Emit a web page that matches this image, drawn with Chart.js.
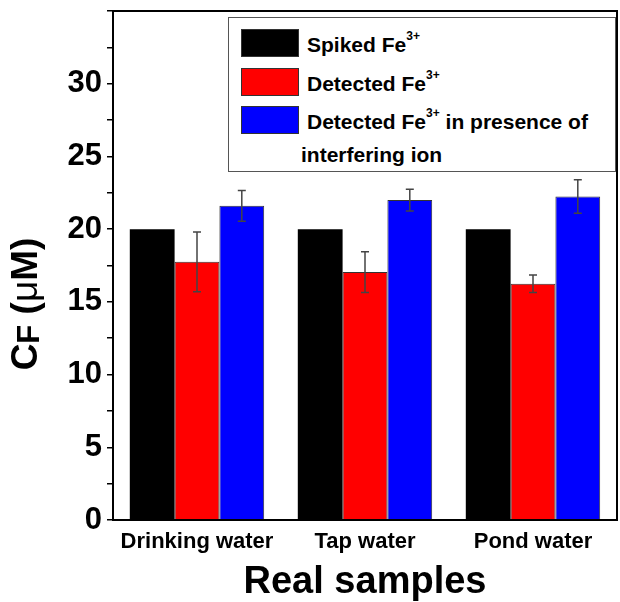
<!DOCTYPE html>
<html>
<head>
<meta charset="utf-8">
<script src="https://cdn.jsdelivr.net/npm/chart.js@4.4.1/dist/chart.umd.min.js"></script>
<style>
    body { margin: 0; background: #fff; }
    #wrap { position: relative; width: 620px; height: 602px; }
    #legendBox {
        position: absolute; left: 228px; top: 17px; width: 386px; height: 153px;
        border: 1px solid #555; background: #fff;
        font-family: "Liberation Sans", Arial, sans-serif; font-weight: bold; font-size: 21px; color: #000;
    }
    .row { position: absolute; left: 12px; height: 28px; }
    .sw { position: absolute; left: 0; top: 0; width: 58px; height: 28px; box-sizing: border-box; border: 1px solid #333; }
    .lbl { position: absolute; left: 66px; top: 4px; white-space: nowrap; }
    .lbl sup { font-size: 12px; position: relative; top: -4px; }
</style>
</head>
<body>
<div id="wrap">
    <canvas id="realSamplesChart" width="620" height="602"></canvas>
    <div id="legendBox"></div>
</div>
<script>
const samples = ['Drinking water', 'Tap water', 'Pond water'];
const spiked = [20, 20, 20];
const detected = [17.75, 17.05, 16.25];
const detectedErr = [2.05, 1.4, 0.6];
const interfering = [21.6, 22.0, 22.25];
const interferingErr = [1.05, 0.75, 1.15];

const legendItems = [
    { color: '#000000', html: 'Spiked Fe<sup>3+</sup>' },
    { color: '#ff0000', html: 'Detected Fe<sup>3+</sup>' },
    { color: '#0000ff', html: 'Detected Fe<sup>3+</sup> in presence of' }
];

// y title pieces: text, size, weight, baseline shift
const yTitleParts = [
    ['C', 37, 'bold', 0],
    ['F', 31, 'bold', 2],
    [' (', 37, 'bold', 0],
    ['\u03bc', 37, 'normal', 0],
    ['M)', 37, 'bold', 0]
];

const font = '"Liberation Sans", Arial, sans-serif';

// Error bars drawn from the data arrays
const errorBarPlugin = {
    id: 'errorBars',
    afterDatasetsDraw(chart) {
        const ctx = chart.ctx;
        const yScale = chart.scales.y;
        chart.data.datasets.forEach((ds, di) => {
            if (!ds.errors) return;
            const meta = chart.getDatasetMeta(di);
            meta.data.forEach((bar, i) => {
                const v = ds.data[i], e = ds.errors[i];
                const yTop = yScale.getPixelForValue(v + e);
                const yBot = yScale.getPixelForValue(v - e);
                ctx.save();
                ctx.strokeStyle = '#444';
                ctx.lineWidth = 1.5;
                ctx.beginPath();
                ctx.moveTo(bar.x, yTop); ctx.lineTo(bar.x, yBot);
                ctx.moveTo(bar.x - 4, yTop); ctx.lineTo(bar.x + 4, yTop);
                ctx.moveTo(bar.x - 4, yBot); ctx.lineTo(bar.x + 4, yBot);
                ctx.stroke();
                ctx.restore();
            });
        });
    }
};

// Full box round the plot area, plus the rotated y title
const framePlugin = {
    id: 'frame',
    afterDraw(chart) {
        const a = chart.chartArea;
        const ctx = chart.ctx;
        ctx.save();
        ctx.strokeStyle = '#000';
        ctx.lineWidth = 2;
        ctx.strokeRect(a.left, a.top, a.right - a.left, a.bottom - a.top);
        ctx.restore();

        ctx.save();
        ctx.translate(37, 304);
        ctx.rotate(-Math.PI / 2);
        ctx.fillStyle = '#000';
        ctx.textBaseline = 'alphabetic';
        let total = 0;
        yTitleParts.forEach(p => {
            ctx.font = `${p[2]} ${p[1]}px ${font}`;
            total += ctx.measureText(p[0]).width;
        });
        let x = -total / 2;
        yTitleParts.forEach(p => {
            ctx.font = `${p[2]} ${p[1]}px ${font}`;
            ctx.fillText(p[0], x, p[3]);
            x += ctx.measureText(p[0]).width;
        });
        ctx.restore();
    }
};

function renderLegend() {
    const box = document.getElementById('legendBox');
    legendItems.forEach((item, i) => {
        const row = document.createElement('div');
        row.className = 'row';
        row.style.top = (11 + i * 38.5) + 'px';
        row.innerHTML = `<div class="sw" style="background:${item.color}"></div><div class="lbl">${item.html}</div>`;
        box.appendChild(row);
    });
    const extra = document.createElement('div');
    extra.className = 'lbl';
    extra.style.left = '72px';
    extra.style.top = '125px';
    extra.textContent = 'interfering ion';
    box.appendChild(extra);
}

new Chart(document.getElementById('realSamplesChart').getContext('2d'), {
    type: 'bar',
    data: {
        labels: samples,
        datasets: [
            { label: 'Spiked Fe3+', data: spiked, backgroundColor: '#000000', borderColor: '#000000', borderWidth: 0 },
            { label: 'Detected Fe3+', data: detected, errors: detectedErr, backgroundColor: '#ff0000', borderColor: '#333', borderWidth: 1 },
            { label: 'Detected Fe3+ in presence of interfering ion', data: interfering, errors: interferingErr, backgroundColor: '#0000ff', borderColor: '#333', borderWidth: 1 }
        ]
    },
    options: {
        responsive: false,
        animation: false,
        categoryPercentage: 0.8,
        barPercentage: 1.0,
        layout: { padding: { left: 0, right: 3, top: 11, bottom: 0 } },
        plugins: {
            legend: { display: false },
            tooltip: { enabled: false }
        },
        scales: {
            x: {
                grid: { display: false },
                border: { display: true, color: '#000', width: 2 },
                ticks: { color: '#000', padding: 1, font: { family: font, weight: 'bold', size: 22 } },
                title: {
                    display: true, text: 'Real samples', color: '#000',
                    font: { family: font, weight: 'bold', size: 38, lineHeight: 1.0 },
                    padding: { top: 0, bottom: 0 }
                },
                afterFit(scale) { scale.height = 82; }
            },
            y: {
                min: 0, max: 35,
                grid: { drawOnChartArea: false, drawTicks: true, tickLength: 6, color: '#000', lineWidth: 1.5 },
                border: { display: true, color: '#000', width: 2 },
                ticks: {
                    stepSize: 2.5, autoSkip: false, color: '#000', padding: 5,
                    font: { family: font, weight: 'bold', size: 31 },
                    callback: v => (v % 5 === 0 && v < 35 ? v : '')
                },
                title: { display: false },
                afterFit(scale) {
                    scale.width = 113;
                    scale.paddingTop = 0;
                    scale.paddingBottom = 0;
                }
            }
        }
    },
    plugins: [errorBarPlugin, framePlugin]
});

renderLegend();
</script>
</body>
</html>
